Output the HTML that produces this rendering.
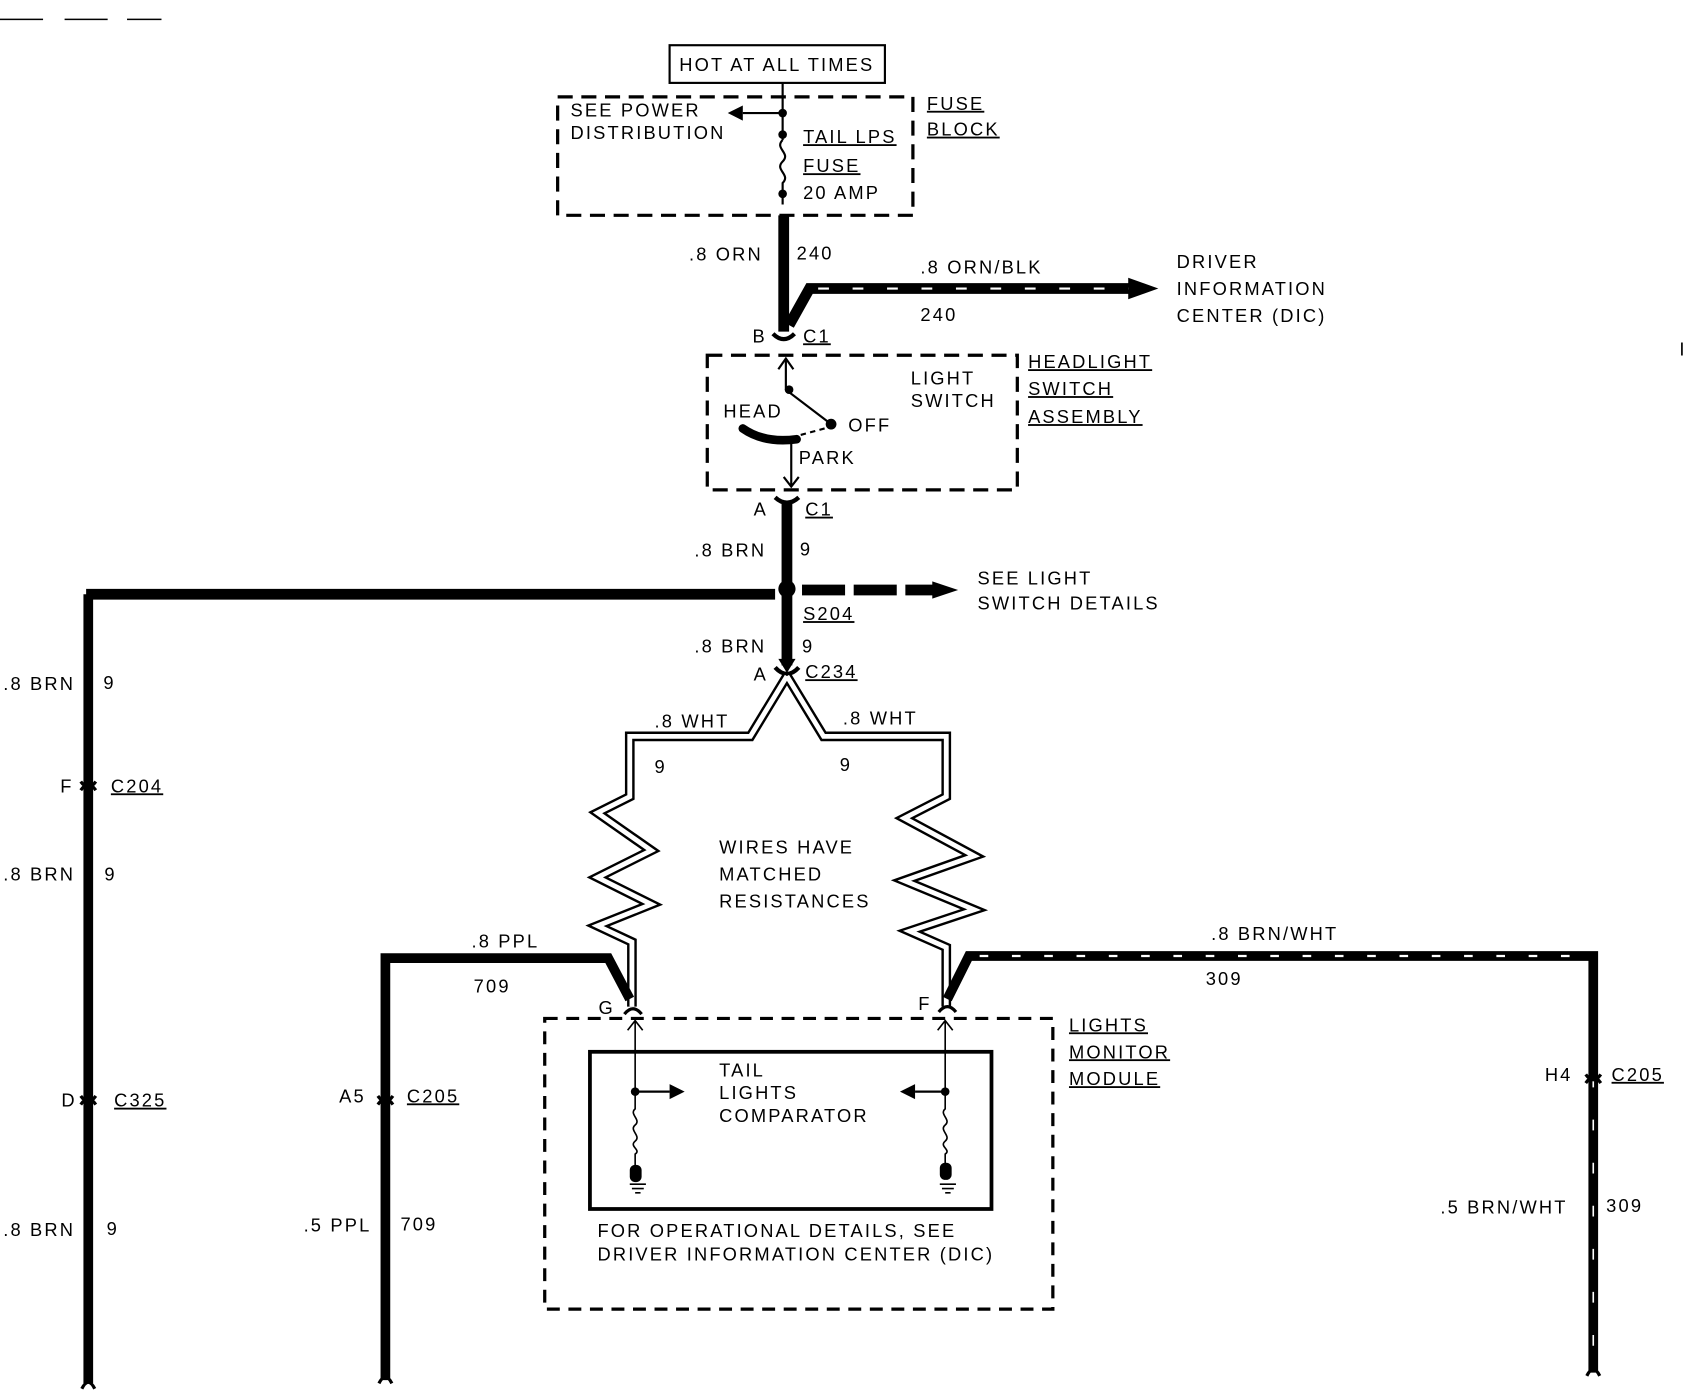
<!DOCTYPE html>
<html><head><style>
html,body{margin:0;padding:0;background:#fff;width:1688px;height:1392px;overflow:hidden}
svg{display:block}
text{font-family:"Liberation Sans",sans-serif;font-size:17px;fill:#000;letter-spacing:2px}
.u{text-decoration:underline}
</style></head><body>
<svg width="1688" height="1392" viewBox="0 0 1568 1293" preserveAspectRatio="none" xmlns="http://www.w3.org/2000/svg">
<g fill="none" stroke="#000">
<path d="M0 18H40M60 18H100M118 18H150" stroke-width="1.5"/>
<rect x="622" y="42" width="200" height="35" stroke-width="2"/>
<rect x="518" y="90" width="330" height="110" stroke-width="3" stroke-dasharray="14,8"/>
<path d="M727 77V130M727 130c-8 8 8 12 0 20s8 12 0 20v20" stroke-width="2"/>
<path d="M727 105H690" stroke-width="2"/>
<path d="M728 200V308" stroke-width="10"/>
<path d="M733 302L752 268H1050" stroke-width="10"/>
<path d="M760 268H1050" stroke="#fff" stroke-width="2" stroke-dasharray="10,22"/>
<path d="M718 310q10 10 20 0" stroke-width="4"/>
<rect x="657" y="330" width="288" height="125" stroke-width="3" stroke-dasharray="14,8"/>
<path d="M730 333V362L772 394" stroke-width="2"/>
<path d="M723 343L730 333L737 343" stroke-width="2"/>
<path d="M766 398L740 405" stroke-width="2" stroke-dasharray="5,4"/>
<path d="M690 398q20 14 50 10" stroke-width="8" stroke-linecap="round"/>
<path d="M735 408V452M728 443L735 452L742 443" stroke-width="2"/>
<path d="M720 462q11 10 22 0" stroke-width="4"/>
<path d="M731 465V618" stroke-width="10"/>
<path d="M80 552H720" stroke-width="10"/>
<path d="M745 548H870" stroke-width="10" stroke-dasharray="40,8"/>
<path d="M720 620q11 12 22 0" stroke-width="4"/>
<g stroke-width="9" stroke-linejoin="miter">
<path id="lw" d="M731 628L697 684H585V740L555 755 605 790 555 815 605 840 555 860 587 875V935"/>
<path id="rw" d="M731 628L765 684H879V740L840 760 905 795 840 818 905 845 845 865 879 880V935"/>
</g>
<g stroke="#fff" stroke-width="4.5" stroke-linejoin="miter">
<use href="#lw"/><use href="#rw"/>
</g>
<path d="M82 552V1285" stroke-width="9"/>
<path d="M358 1282V890H565L585 928" stroke-width="9"/>
<path d="M880 928L900 888H1480V1275" stroke-width="9"/>
<path d="M910 888H1475" stroke="#fff" stroke-width="2" stroke-dasharray="8,22"/>
<path d="M1480 1000V1275" stroke="#fff" stroke-width="1.5" stroke-dasharray="10,30"/>
<g stroke-width="3">
<path d="M75 734q7-10 14 0M75 726q7 10 14 0"/>
<path d="M75 1026q7-10 14 0M75 1018q7 10 14 0"/>
<path d="M351 1026q7-10 14 0M351 1018q7 10 14 0"/>
<path d="M1473 1006q7-10 14 0M1473 998q7 10 14 0"/>
<path d="M580 942q8-10 16 0M872 940q8-10 16 0"/>
<path d="M76 1290q6-12 12 0M352 1285q6-12 12 0M1474 1278q6-12 12 0"/>
</g>
<rect x="506" y="946" width="472" height="270" stroke-width="3" stroke-dasharray="12,8"/>
<rect x="548" y="977" width="373" height="146" stroke-width="3.5"/>
<path d="M590 948V1030c-6 5 6 10 0 15s6 10 0 15 6 8 0 12V1085M583 957L590 948L597 957" stroke-width="1.5"/>
<path d="M878 948V1030c-6 5 6 10 0 15s6 10 0 15 6 8 0 12V1085M871 957L878 948L885 957" stroke-width="1.5"/>
<path d="M590 1014H622M878 1014H850" stroke-width="2"/>
<path d="M585 1100H600M587 1104H598M590 1108H595M873 1100H888M875 1104H886M878 1108H883" stroke-width="1.5"/>
</g>
<g fill="#000">
<polygon points="690,98 676,105 690,112"/>
<circle cx="727" cy="105" r="4"/><circle cx="727" cy="125" r="4"/><circle cx="727" cy="180" r="4"/>
<polygon points="1048,258 1076,268 1048,278"/>
<circle cx="733" cy="362" r="4"/><circle cx="772" cy="394" r="5"/>
<circle cx="731" cy="547" r="8"/>
<polygon points="866,540 890,548 866,556"/>
<polygon points="723,612 731,625 739,612"/>
<circle cx="590" cy="1014" r="4"/><circle cx="878" cy="1014" r="4"/>
<polygon points="622,1007 636,1014 622,1021"/><polygon points="850,1007 836,1014 850,1021"/>
<rect x="585" y="1082" width="11" height="16" rx="5"/><rect x="873" y="1080" width="11" height="16" rx="5"/>
</g>
<g>
<text x="631" y="66">HOT AT ALL TIMES</text>
<text x="530" y="108">SEE POWER</text>
<text x="530" y="129">DISTRIBUTION</text>
<text x="746" y="133" class="u" font-size="19">TAIL LPS</text>
<text x="746" y="160" class="u" font-size="19">FUSE</text>
<text x="746" y="185">20 AMP</text>
<text x="861" y="102" class="u" font-size="19">FUSE</text>
<text x="861" y="126" class="u" font-size="19">BLOCK</text>
<text x="640" y="242" font-size="19">.8 ORN</text>
<text x="740" y="241" font-size="18">240</text>
<text x="855" y="254" font-size="18">.8 ORN/BLK</text>
<text x="855" y="298" font-size="18">240</text>
<text x="1093" y="249" font-size="18">DRIVER</text>
<text x="1093" y="274" font-size="18">INFORMATION</text>
<text x="1093" y="299" font-size="18">CENTER  (DIC)</text>
<text x="699" y="318" font-size="18">B</text>
<text x="746" y="318" class="u" font-size="18">C1</text>
<text x="846" y="357">LIGHT</text>
<text x="846" y="378">SWITCH</text>
<text x="672" y="388">HEAD</text>
<text x="788" y="401">OFF</text>
<text x="742" y="431">PARK</text>
<text x="955" y="342" class="u" font-size="19">HEADLIGHT</text>
<text x="955" y="367" class="u" font-size="19">SWITCH</text>
<text x="955" y="393" class="u" font-size="19">ASSEMBLY</text>
<text x="700" y="479" font-size="18">A</text>
<text x="748" y="479" class="u" font-size="18">C1</text>
<text x="645" y="517" font-size="19">.8 BRN</text>
<text x="743" y="516" font-size="17">9</text>
<text x="908" y="543" font-size="18">SEE LIGHT</text>
<text x="908" y="566" font-size="18">SWITCH DETAILS</text>
<text x="746" y="576" class="u" font-size="18">S204</text>
<text x="645" y="606" font-size="19">.8 BRN</text>
<text x="745" y="606" font-size="17">9</text>
<text x="700" y="632" font-size="18">A</text>
<text x="748" y="630" class="u" font-size="18">C234</text>
<text x="608" y="676" font-size="18">.8 WHT</text>
<text x="783" y="673" font-size="18">.8 WHT</text>
<text x="608" y="718" font-size="16">9</text>
<text x="780" y="716" font-size="16">9</text>
<text x="668" y="793" font-size="18">WIRES HAVE</text>
<text x="668" y="818" font-size="18">MATCHED</text>
<text x="668" y="843" font-size="18">RESISTANCES</text>
<text x="3" y="641" font-size="18">.8 BRN</text>
<text x="96" y="640">9</text>
<text x="56" y="736" font-size="16">F</text>
<text x="103" y="736" class="u" font-size="18">C204</text>
<text x="3" y="818" font-size="18">.8 BRN</text>
<text x="97" y="818">9</text>
<text x="57" y="1028" font-size="16">D</text>
<text x="106" y="1028" class="u" font-size="18">C325</text>
<text x="3" y="1148" font-size="18">.8 BRN</text>
<text x="99" y="1147">9</text>
<text x="438" y="880" font-size="17">.8 PPL</text>
<text x="440" y="922" font-size="16">709</text>
<text x="315" y="1024" font-size="16">A5</text>
<text x="378" y="1024" class="u" font-size="18">C205</text>
<text x="282" y="1144" font-size="16">.5 PPL</text>
<text x="372" y="1143" font-size="16">709</text>
<text x="556" y="942" font-size="16">G</text>
<text x="853" y="938" font-size="16">F</text>
<text x="1125" y="873" font-size="17">.8 BRN/WHT</text>
<text x="1120" y="915" font-size="16">309</text>
<text x="1435" y="1004" font-size="16">H4</text>
<text x="1497" y="1004" class="u" font-size="18">C205</text>
<text x="1338" y="1127" font-size="16">.5 BRN/WHT</text>
<text x="1492" y="1126" font-size="16">309</text>
<text x="668" y="1000" font-size="15">TAIL</text>
<text x="668" y="1021" font-size="15">LIGHTS</text>
<text x="668" y="1042" font-size="15">COMPARATOR</text>
<text x="555" y="1149" font-size="16">FOR OPERATIONAL DETAILS, SEE</text>
<text x="555" y="1171" font-size="16">DRIVER INFORMATION CENTER (DIC)</text>
<text x="993" y="958" class="u" font-size="18">LIGHTS</text>
<text x="993" y="983" class="u" font-size="18">MONITOR</text>
<text x="993" y="1008" class="u" font-size="18">MODULE</text>
<text x="1560" y="330" font-size="12">I</text>
</g>
</svg>
</body></html>
